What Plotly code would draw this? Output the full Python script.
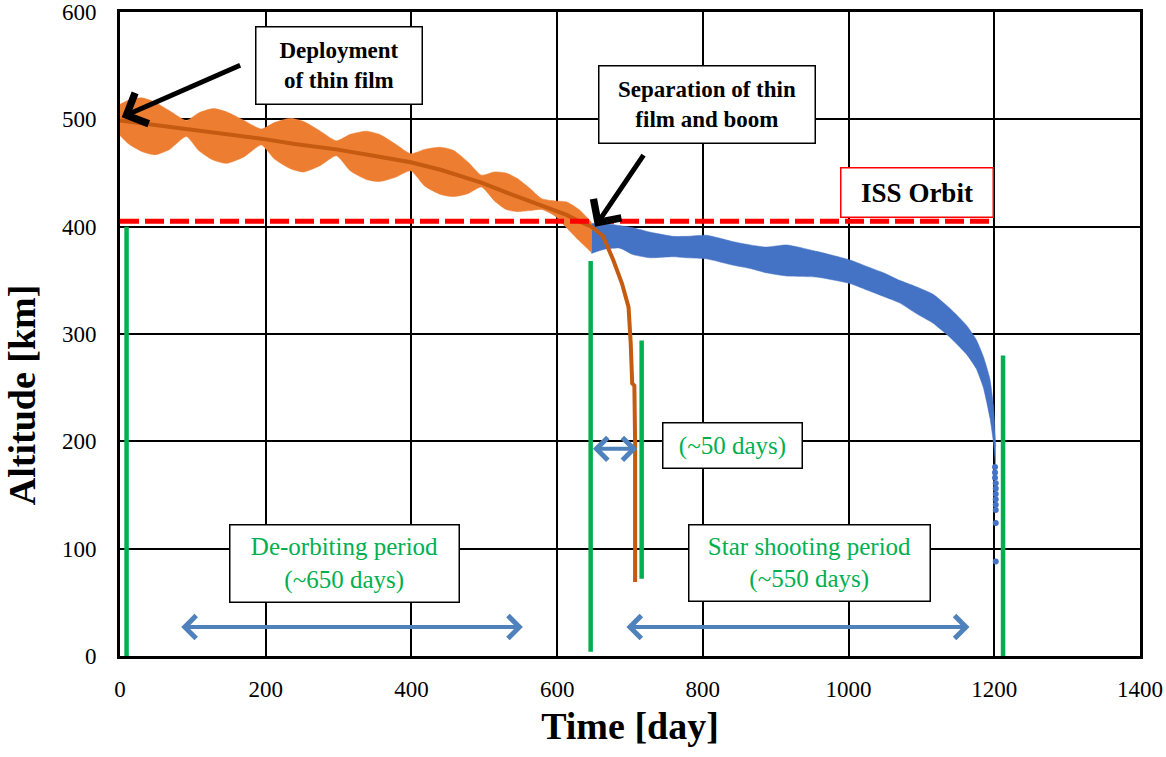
import plotly.graph_objects as go

# ---------------- data ----------------
X_TICKS = [0, 200, 400, 600, 800, 1000, 1200, 1400]
Y_TICKS = [0, 100, 200, 300, 400, 500, 600]

# thin film + boom phase (orange envelope)
ORANGE_DAYS = [0, 12, 30, 48, 68, 91, 108, 128, 146, 170, 194, 212, 234, 252, 275,
               297, 316, 338, 356, 378, 399, 418, 440, 458, 478, 496, 514, 530, 545,
               562, 579, 597, 613, 630, 647]
ORANGE_UPPER = [514, 518, 520, 516, 508, 499, 506, 510, 507, 499, 491, 497, 501, 498, 489,
                480, 486, 489, 486, 477, 468, 472, 474, 471, 460, 448, 451, 450, 445,
                436, 426, 424, 423, 416, 404]
ORANGE_LOWER = [485, 477, 470, 467, 472, 484, 471, 462, 459, 465, 476, 463, 454, 451, 457,
                466, 452, 444, 442, 446, 452, 438, 430, 428, 431, 437, 424, 416, 414,
                415, 416, 410, 399, 387, 376]

# mean altitude of the thin film (dark orange line)
ORANGE_LINE_DAYS = [0, 34, 91, 137, 194, 240, 297, 340, 399, 440, 496, 530, 579, 613,
                    630, 647, 663, 677, 689, 698, 701, 703, 706, 707, 707]
ORANGE_LINE_ALT = [499, 496, 491, 487, 482, 477, 472, 467, 460, 453, 441, 432, 420, 411,
                   405, 400, 391, 369, 347, 325, 291, 254, 252, 200, 69]

# boom phase after separation (blue envelope)
BLUE_DAYS = [647, 665, 686, 704, 727, 759, 778, 805, 842, 865, 887, 915, 956, 1002, 1025,
             1048, 1070, 1093, 1116, 1139, 1162, 1175, 1185, 1194, 1199, 1202]
BLUE_UPPER = [403, 403, 401, 399, 395, 391, 391, 392, 386, 383, 381, 383, 377, 369, 363,
              357, 350, 344, 337, 324, 308, 295, 279, 258, 232, 195]
BLUE_LOWER = [375, 379, 380, 374, 371, 372, 371, 370, 364, 361, 357, 354, 353, 347, 341,
              335, 329, 319, 310, 297, 281, 268, 250, 222, 198, 174]
BLUE_TAIL_DAYS = [1201, 1201, 1201, 1202, 1202, 1202, 1202, 1202, 1202, 1202, 1202]
BLUE_TAIL_ALT = [176, 171, 166, 161, 156, 151, 146, 141, 136, 124, 88]

# ISS orbit reference line
ISS_DAYS = [0, 1201]
ISS_ALT = 405

# green period markers: day, bottom, top
GREEN_DAYS = [9, 646, 716, 1212]
GREEN_BOTTOM = [0, 4, 72, 0]
GREEN_TOP = [400, 368, 294, 280]

# blue double arrows for the periods
PERIOD_START = [82, 647, 693]
PERIOD_END = [553, 710, 1166]
PERIOD_ALT = [27, 193, 27]

# text boxes
BOX_TEXT = ["<b>Deployment</b><br><b>of thin film</b>",
            "<b>Separation of thin</b><br><b>film and boom</b>",
            "<b>ISS Orbit</b>",
            "(~50 days)",
            "De-orbiting period<br>(~650 days)",
            "Star shooting period<br>(~550 days)"]
BOX_DAY = [300, 806, 1094.5, 841, 308, 946]
BOX_ALT = [550, 514, 432, 196, 86.4, 86.4]

# black pointer arrows: tip (day, alt) and tail (day, alt)
POINTER_TIP_DAY = [2.3, 652]
POINTER_TIP_ALT = [502, 400]
POINTER_TAIL_DAY = [167, 720]
POINTER_TAIL_ALT = [551, 468]

# ---------------- styles ----------------
ORANGE_FILL = "#ED7D31"
ORANGE_DARK = "#C55A11"
BLUE_FILL = "#4472C4"
ARROW_BLUE = "#4F81BD"
GREEN = "#00B050"
SERIF = "Liberation Serif, Times New Roman, Times, serif"

fig = go.Figure()

# orange envelope
fig.add_trace(go.Scatter(x=ORANGE_DAYS, y=ORANGE_UPPER, mode="lines",
                         line=dict(color=ORANGE_FILL, width=0.5, shape="spline", smoothing=0.6),
                         hoverinfo="skip"))
fig.add_trace(go.Scatter(x=ORANGE_DAYS, y=ORANGE_LOWER, mode="lines", fill="tonexty",
                         fillcolor=ORANGE_FILL,
                         line=dict(color=ORANGE_FILL, width=0.5, shape="spline", smoothing=0.6),
                         hoverinfo="skip"))
# blue envelope
fig.add_trace(go.Scatter(x=BLUE_DAYS, y=BLUE_UPPER, mode="lines",
                         line=dict(color=BLUE_FILL, width=0.5, shape="spline", smoothing=0.5),
                         hoverinfo="skip"))
fig.add_trace(go.Scatter(x=BLUE_DAYS, y=BLUE_LOWER, mode="lines", fill="tonexty",
                         fillcolor=BLUE_FILL,
                         line=dict(color=BLUE_FILL, width=0.5, shape="spline", smoothing=0.5),
                         hoverinfo="skip"))
fig.add_trace(go.Scatter(x=BLUE_TAIL_DAYS, y=BLUE_TAIL_ALT, mode="markers",
                         marker=dict(color=BLUE_FILL, size=6), hoverinfo="skip"))

# dark orange mean line
fig.add_trace(go.Scatter(x=ORANGE_LINE_DAYS, y=ORANGE_LINE_ALT, mode="lines",
                         line=dict(color=ORANGE_DARK, width=4), hoverinfo="skip"))

# ISS orbit dashed line
fig.add_trace(go.Scatter(x=ISS_DAYS, y=[ISS_ALT] * len(ISS_DAYS), mode="lines",
                         line=dict(color="#FF0000", width=5, dash="19px,6px"),
                         hoverinfo="skip"))

# green markers
for d, b, t in zip(GREEN_DAYS, GREEN_BOTTOM, GREEN_TOP):
    fig.add_trace(go.Scatter(x=[d, d], y=[b, t], mode="lines",
                             line=dict(color=GREEN, width=4.5), hoverinfo="skip"))

annotations = []
# period double arrows
for s, e, a in zip(PERIOD_START, PERIOD_END, PERIOD_ALT):
    annotations.append(dict(x=e, y=a, ax=s, ay=a, xref="x", yref="y", axref="x", ayref="y",
                            text="", showarrow=True, arrowside="end+start",
                            arrowhead=4, startarrowhead=4, arrowsize=1.1, startarrowsize=1.1,
                            arrowwidth=4, arrowcolor=ARROW_BLUE))
# black pointers
for tx, ty, sx, sy in zip(POINTER_TIP_DAY, POINTER_TIP_ALT, POINTER_TAIL_DAY, POINTER_TAIL_ALT):
    annotations.append(dict(x=tx, y=ty, ax=sx, ay=sy, xref="x", yref="y", axref="x", ayref="y",
                            text="", showarrow=True, arrowhead=4, arrowsize=1.3,
                            arrowwidth=5, arrowcolor="black"))

# text boxes
box_w = [165, 215, 151, 138, 228, 240]
box_h = [76, 76, 48, 44, 76, 75]
box_font = [dict(size=23, color="black"), dict(size=23, color="black"),
            dict(size=27, color="black"), dict(size=25, color=GREEN),
            dict(size=25, color=GREEN), dict(size=25, color=GREEN)]
box_border = ["black", "black", "#FF0000", "black", "black", "black"]
for txt, d, a, w, h, f, bc in zip(BOX_TEXT, BOX_DAY, BOX_ALT, box_w, box_h, box_font, box_border):
    annotations.append(dict(x=d, y=a, xref="x", yref="y", text=txt, showarrow=False,
                            width=w, height=h, bgcolor="white", bordercolor=bc,
                            borderwidth=1.5, borderpad=0, align="center", valign="middle",
                            font=dict(family=SERIF, **f)))

# y-axis title (placed slightly below the centre, as in the original)
annotations.append(dict(x=0, y=0.405, xref="paper", yref="paper", xshift=-98,
                        text="<b>Altitude [km]</b>", textangle=-90, showarrow=False,
                        xanchor="center", yanchor="middle",
                        font=dict(family=SERIF, size=38, color="black")))

fig.update_layout(
    width=1166, height=757,
    margin=dict(l=120, r=26, t=12, b=101, autoexpand=False),
    paper_bgcolor="white", plot_bgcolor="white",
    showlegend=False,
    font=dict(family=SERIF, color="black"),
    annotations=annotations,
)
axis_common = dict(showgrid=True, gridcolor="black", gridwidth=1.5, showline=True,
                   linewidth=3, linecolor="black", mirror=True, zeroline=False, ticks="",
                   automargin=False,
                   tickfont=dict(family=SERIF, size=23, color="black"))
fig.update_xaxes(range=[0, 1400], tickvals=X_TICKS, ticklabelstandoff=10,
                 title=dict(text="<b>Time [day]</b>", font=dict(family=SERIF, size=38),
                            standoff=12),
                 **axis_common)
fig.update_yaxes(range=[0, 600], tickvals=Y_TICKS, ticklabelstandoff=16,
                 **axis_common)

fig.write_html("out.html")
